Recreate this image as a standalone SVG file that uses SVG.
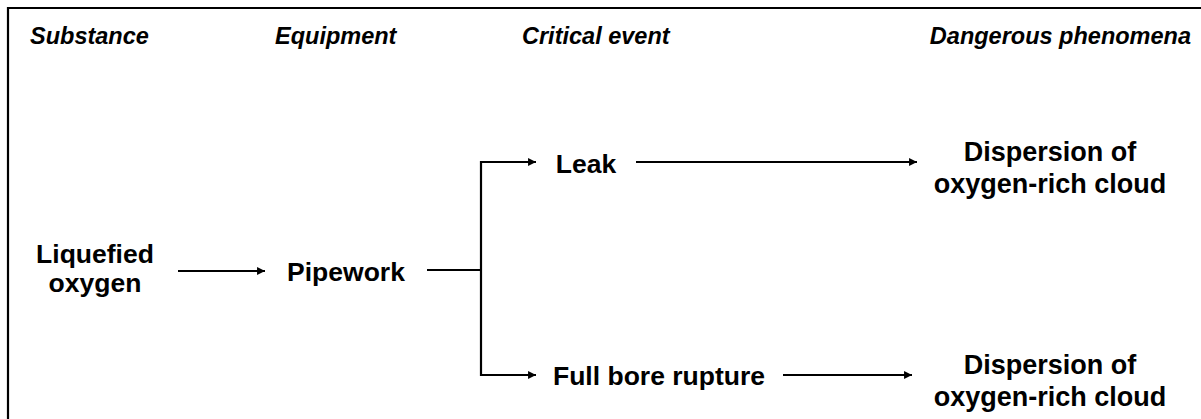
<svg xmlns="http://www.w3.org/2000/svg" width="1201" height="419" viewBox="0 0 1201 419">
<defs>
<style>
.hdr{font-family:"Liberation Sans",Arial,sans-serif;font-weight:bold;font-style:italic;font-size:23.5px;fill:#000}
.lbl{font-family:"Liberation Sans",Arial,sans-serif;font-weight:bold;font-size:26.5px;fill:#000}
.lbl2{font-family:"Liberation Sans",Arial,sans-serif;font-weight:bold;font-size:27px;fill:#000}
.ln{stroke:#000;stroke-width:2.2;fill:none}
</style>
<marker id="ah" viewBox="0 0 10 10" refX="10" refY="5" markerWidth="4" markerHeight="3.6" markerUnits="strokeWidth" orient="auto">
<path d="M0,0 L10,5 L0,10 z" fill="#000"/>
</marker>
</defs>
<rect x="0" y="0" width="1201" height="419" fill="#fff"/>
<g id="frame">
<path class="ln" d="M8,419 L8,8 L1201,8" stroke-width="2.5"/>
</g>
<g id="headers">
<text class="hdr" x="30" y="44">Substance</text>
<text class="hdr" x="275" y="44">Equipment</text>
<text class="hdr" x="522" y="44">Critical event</text>
<text class="hdr" x="1191" y="44" text-anchor="end">Dangerous phenomena</text>
</g>
<g id="connectors">
<line class="ln" x1="178" y1="271" x2="265" y2="271" marker-end="url(#ah)"/>
<line class="ln" x1="427" y1="270" x2="481" y2="270"/>
<path class="ln" d="M536,162 L481,162 L481,375 L536,375" marker-end="url(#ah)"/>
<path class="ln" d="M481,162 L536,162" marker-end="url(#ah)"/>
<line class="ln" x1="636" y1="162" x2="917" y2="162" marker-end="url(#ah)"/>
<line class="ln" x1="783" y1="375" x2="912" y2="375" marker-end="url(#ah)"/>
</g>
<g id="node-liquefied-oxygen">
<text class="lbl" x="95" y="263" text-anchor="middle">Liquefied</text>
<text class="lbl" x="95" y="292" text-anchor="middle">oxygen</text>
</g>
<g id="node-pipework">
<text class="lbl" x="346" y="281" text-anchor="middle">Pipework</text>
</g>
<g id="node-leak">
<text class="lbl" x="586" y="173" text-anchor="middle">Leak</text>
</g>
<g id="node-full-bore-rupture">
<text class="lbl" x="659" y="385" text-anchor="middle">Full bore rupture</text>
</g>
<g id="node-dispersion-1">
<text class="lbl2" x="1050" y="161" text-anchor="middle">Dispersion of</text>
<text class="lbl2" x="1050" y="193" text-anchor="middle">oxygen-rich cloud</text>
</g>
<g id="node-dispersion-2">
<text class="lbl2" x="1050" y="374" text-anchor="middle">Dispersion of</text>
<text class="lbl2" x="1050" y="406" text-anchor="middle">oxygen-rich cloud</text>
</g>
</svg>
